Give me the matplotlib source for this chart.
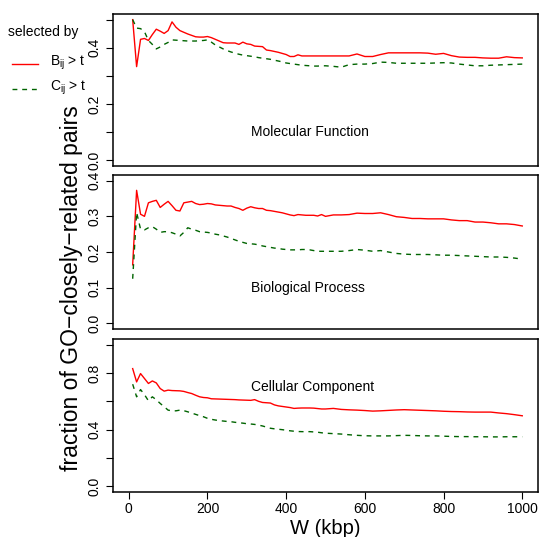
import matplotlib
matplotlib.use("Agg")
import matplotlib.pyplot as plt
from matplotlib.lines import Line2D

plt.rcParams['font.family'] = ['Liberation Sans', 'DejaVu Sans']

W = list(range(10, 501, 10)) + list(range(520, 1001, 20))

B_MF = [.500, .333, .430, .433, .426, .447, .466, .459, .451, .461,
        .492, .473, .461, .455, .449, .444, .439, .438, .438, .440,
        .436, .430, .424, .418, .417, .417, .417, .412, .420, .414,
        .412, .406, .405, .404, .392, .390, .387, .384, .380, .376,
        .369, .369, .375, .371, .371, .371, .371, .371, .371, .371,
        .371, .371, .371, .378, .369, .369, .376, .382, .382, .382,
        .382, .382, .381, .377, .380, .372, .367, .366, .366, .364,
        .363, .363, .368, .365, .364]
C_MF = [.500, .470, .468, .457, .426, .412, .396, .403, .412, .419,
        .428, .427, .426, .425, .424, .424, .424, .425, .426, .428,
        .420, .410, .403, .396, .390, .385, .381, .377, .374, .372,
        .370, .368, .365, .363, .361, .359, .356, .353, .350, .346,
        .344, .342, .340, .338, .337, .336, .335, .335, .336, .336,
        .334, .331, .340, .342, .342, .344, .349, .348, .345, .345,
        .345, .345, .345, .346, .347, .346, .342, .339, .336, .336,
        .338, .339, .340, .341, .342]

B_BP = [.164, .373, .306, .300, .338, .342, .345, .325, .334, .342,
        .330, .317, .315, .338, .340, .342, .336, .333, .334, .336,
        .335, .332, .331, .330, .329, .329, .325, .322, .317, .323,
        .327, .324, .322, .322, .317, .316, .314, .312, .310, .307,
        .304, .302, .305, .304, .303, .303, .303, .301, .305, .300,
        .304, .304, .305, .309, .308, .308, .310, .305, .299, .297,
        .294, .294, .293, .293, .293, .290, .288, .288, .284, .284,
        .282, .279, .279, .277, .273]
C_BP = [.125, .311, .264, .262, .268, .271, .264, .255, .257, .257,
        .254, .250, .245, .255, .268, .264, .261, .257, .256, .255,
        .253, .250, .248, .245, .242, .238, .234, .230, .227, .224,
        .223, .222, .220, .217, .215, .213, .211, .210, .208, .207,
        .206, .206, .206, .207, .207, .206, .204, .202, .202, .202,
        .202, .202, .204, .207, .205, .202, .204, .200, .196, .194,
        .193, .193, .193, .192, .191, .191, .190, .189, .188, .187,
        .186, .186, .185, .183, .180]

B_CC = [.831, .737, .796, .761, .726, .744, .730, .690, .672, .679,
        .676, .675, .674, .670, .662, .655, .643, .632, .627, .625,
        .618, .617, .616, .615, .614, .613, .612, .610, .609, .608,
        .607, .612, .600, .592, .590, .588, .575, .568, .564, .560,
        .556, .550, .552, .553, .553, .553, .552, .549, .546, .546,
        .550, .543, .540, .538, .535, .531, .533, .536, .539, .541,
        .539, .537, .535, .533, .530, .528, .527, .525, .524, .524,
        .524, .518, .513, .506, .498]
C_CC = [.721, .632, .683, .647, .604, .632, .611, .585, .562, .538,
        .533, .533, .538, .534, .526, .517, .508, .499, .491, .480,
        .473, .468, .464, .461, .458, .456, .452, .449, .446, .442,
        .440, .437, .432, .426, .418, .410, .406, .403, .400, .396,
        .392, .389, .387, .386, .386, .386, .384, .382, .378, .375,
        .372, .369, .364, .360, .357, .356, .356, .356, .358, .360,
        .359, .357, .356, .356, .354, .352, .351, .351, .350, .350,
        .349, .349, .350, .350, .350]

panel_names = ["Molecular Function", "Biological Process", "Cellular Component"]
ylims = [(0, 0.5), (0, 0.4), (0, 1.0)]
yticks = [[0.0, 0.1, 0.2, 0.3, 0.4, 0.5], [0.0, 0.1, 0.2, 0.3, 0.4],
          [0.0, 0.2, 0.4, 0.6, 0.8, 1.0]]
ylabels_shown = [[0.0, 0.2, 0.4], [0.0, 0.1, 0.2, 0.3, 0.4], [0.0, 0.4, 0.8]]
name_pos = [0.1, 0.1, 0.7]
xticks = [0, 200, 400, 600, 800, 1000]

series = [(B_MF, C_MF), (B_BP, C_BP), (B_CC, C_CC)]

fig = plt.figure(figsize=(5.40, 5.37), dpi=100)
FW, FH = 540, 537
rects_px = [(113, 14, 538, 166), (113, 175, 538, 329), (113, 339, 538, 492)]

RED = '#FF0000'
GREEN = '#006400'
dash = (0, (3.5, 3.5))
FS = 10

for i, (l, t, r, b) in enumerate(rects_px):
    ax = fig.add_axes([l / FW, 1 - b / FH, (r - l) / FW, (b - t) / FH])
    Bv, Cv = series[i]
    ax.plot(W, Bv, color=RED, lw=1.0)
    ax.plot(W, Cv, color=GREEN, lw=1.0, linestyle=dash)
    lo, hi = ylims[i]
    ext = (hi - lo) * 0.04
    ax.set_ylim(lo - ext, hi + ext)
    ax.set_xlim(-40, 1040)
    ax.set_yticks(yticks[i])
    ax.set_yticklabels([("%.1f" % v) if any(abs(v - s) < 1e-9 for s in ylabels_shown[i]) else ""
                        for v in yticks[i]], rotation=90, va='center')
    ax.tick_params(axis='y', direction='out', length=5, width=0.8, labelsize=FS, pad=3)
    if i == 2:
        ax.set_xticks(xticks)
        ax.set_xticklabels([str(v) for v in xticks])
        ax.tick_params(axis='x', direction='out', length=5, width=0.8, labelsize=FS, pad=2)
        ax.set_xlabel("W (kbp)", fontsize=14.5, labelpad=2)
    else:
        ax.set_xticks([])
    for s in ax.spines.values():
        s.set_linewidth(1.1)
    ax.text(310, name_pos[i], panel_names[i], fontsize=FS, ha='left', va='center')

fig.text(72 / FW, 1 - 288 / FH, "fraction of GO\u2212closely\u2212related pairs",
         rotation=90, ha='center', va='center', fontsize=16.5)

# legend
fig.text(8 / FW, 1 - 32 / FH, "selected by", fontsize=FS, ha='left', va='center')
fig.add_artist(Line2D([12 / FW, 38 / FW], [1 - 64 / FH, 1 - 64 / FH], color=RED, lw=1.0,
                      transform=fig.transFigure))
fig.add_artist(Line2D([12 / FW, 38 / FW], [1 - 89 / FH, 1 - 89 / FH], color=GREEN, lw=1.0,
                      linestyle=dash, transform=fig.transFigure))
fig.text(50 / FW, 1 - 63 / FH, r"B$_{\mathregular{ij}}$ > t", fontsize=FS, ha='left', va='center')
fig.text(50 / FW, 1 - 88 / FH, r"C$_{\mathregular{ij}}$ > t", fontsize=FS, ha='left', va='center')

fig.savefig("out.png", dpi=100)
